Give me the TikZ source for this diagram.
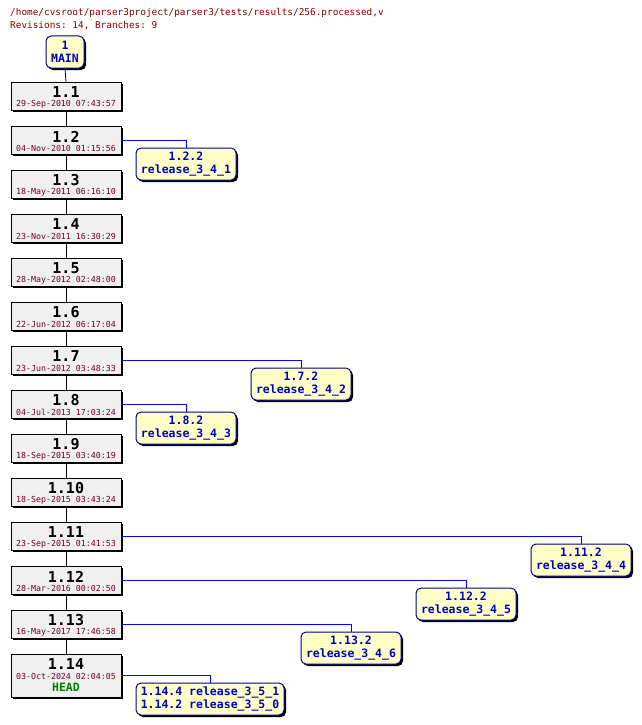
\documentclass[tikz,border=0pt]{standalone}
\usepackage{fontspec}
\setmonofont{DejaVu Sans Mono}
\usetikzlibrary{shadows}
\definecolor{revfill}{HTML}{F0F0F0}
\definecolor{brfill}{HTML}{FFFFC8}
\definecolor{brborder}{HTML}{000090}
\definecolor{brtext}{HTML}{0000C0}
\definecolor{brline}{HTML}{0000FF}
\definecolor{titlecol}{HTML}{800000}
\definecolor{datecol}{HTML}{700020}
\definecolor{headcol}{HTML}{008000}
\begin{document}
\begin{tikzpicture}[x=1pt,y=-1pt,
  revbox/.style={draw=black, fill=revfill, minimum width=110pt, minimum height=28pt, inner sep=0pt,
    drop shadow={shadow xshift=2pt,shadow yshift=-2pt,opacity=1,fill=black}},
  brbox/.style={draw=brborder, fill=brfill, rounded corners=5pt, minimum height=32pt, inner sep=0pt, line width=1pt,
    font=\ttfamily\bfseries\fontsize{11.5}{13.5}\selectfont, text=brtext, align=center,
    drop shadow={shadow xshift=2pt,shadow yshift=-2pt,opacity=1,fill=black}},
  revnum/.style={font=\ttfamily\bfseries\fontsize{15}{15}\selectfont, inner sep=0pt},
  datelbl/.style={font=\ttfamily\fontsize{8.3}{8.3}\selectfont, text=datecol, inner sep=0pt},
  titlelbl/.style={font=\ttfamily\fontsize{9.4}{9.4}\selectfont, text=titlecol, inner sep=0pt, anchor=base west},
  revline/.style={draw=black, line width=0.8pt},
  brconn/.style={draw=brline, line width=0.8pt},
]
\useasboundingbox (0,0) rectangle (641,725);
\fill[white] (0,0) rectangle (641,725);

\node[titlelbl] (t1) at (10,16) {/home/cvsroot/parser3project/parser3/tests/results/256.processed,v};
\node[titlelbl] (t2) at (10,28.5) {Revisions: 14, Branches: 9};

% MAIN
\node[brbox, minimum width=38pt] (main) at (65,52) {1\\MAIN};

\newcommand\myrev[4]{%
  \node[revbox] (#1) at (66,#2+14) {};
  \node[revnum] (#1n) at (66,#2+10.5) {#3};
  \node[datelbl] (#1d) at (66,#2+22) {#4};
}
\myrev{r1}{82}{1.1}{29-Sep-2010 07:43:57}
\myrev{r2}{126}{1.2}{04-Nov-2010 01:15:56}
\myrev{r3}{170}{1.3}{18-May-2011 06:16:10}
\myrev{r4}{214}{1.4}{23-Nov-2011 16:30:29}
\myrev{r5}{258}{1.5}{28-May-2012 02:48:00}
\myrev{r6}{302}{1.6}{22-Jun-2012 06:17:04}
\myrev{r7}{346}{1.7}{23-Jun-2012 03:48:33}
\myrev{r8}{390}{1.8}{04-Jul-2013 17:03:24}
\myrev{r9}{434}{1.9}{18-Sep-2015 03:40:19}
\myrev{r10}{478}{1.10}{18-Sep-2015 03:43:24}
\myrev{r11}{522}{1.11}{23-Sep-2015 01:41:53}
\myrev{r12}{566}{1.12}{28-Mar-2016 00:02:50}
\myrev{r13}{610}{1.13}{16-May-2017 17:46:58}
% 1.14 (taller, with HEAD)
\node[revbox, minimum height=43pt] (r14) at (66,675.5) {};
\node[revnum] (r14n) at (66,664.5) {1.14};
\node[datelbl] (r14d) at (66,676) {03-Oct-2024 02:04:05};
\node[font=\ttfamily\bfseries\fontsize{11.5}{11.5}\selectfont, text=headcol, inner sep=0pt] (r14h) at (66,687.5) {HEAD};

% trunk connectors
\draw[revline] (main.south) -- (r1.north);
\foreach \a/\b in {r1/r2,r2/r3,r3/r4,r4/r5,r5/r6,r6/r7,r7/r8,r8/r9,r9/r10,r10/r11,r11/r12,r12/r13,r13/r14}
  \draw[revline] (\a.south) -- (\b.north);

% branches
\node[brbox, minimum width=100pt] (b122) at (186,164) {1.2.2\\release\_3\_4\_1};
\node[brbox, minimum width=100pt] (b172) at (301,384) {1.7.2\\release\_3\_4\_2};
\node[brbox, minimum width=100pt] (b182) at (186,428) {1.8.2\\release\_3\_4\_3};
\node[brbox, minimum width=100pt] (b1112) at (581,560) {1.11.2\\release\_3\_4\_4};
\node[brbox, minimum width=100pt] (b1122) at (466,604) {1.12.2\\release\_3\_4\_5};
\node[brbox, minimum width=100pt] (b1132) at (351,648) {1.13.2\\release\_3\_4\_6};
\node[brbox, minimum width=148pt] (b1144) at (210,699) {1.14.4 release\_3\_5\_1\\1.14.2 release\_3\_5\_0};

\draw[brconn] (r2.east) -| (b122.north);
\draw[brconn] (r7.east) -| (b172.north);
\draw[brconn] (r8.east) -| (b182.north);
\draw[brconn] (r11.east) -| (b1112.north);
\draw[brconn] (r12.east) -| (b1122.north);
\draw[brconn] (r13.east) -| (b1132.north);
\draw[brconn] (r14.east) -| (b1144.north);
\end{tikzpicture}
\end{document}
